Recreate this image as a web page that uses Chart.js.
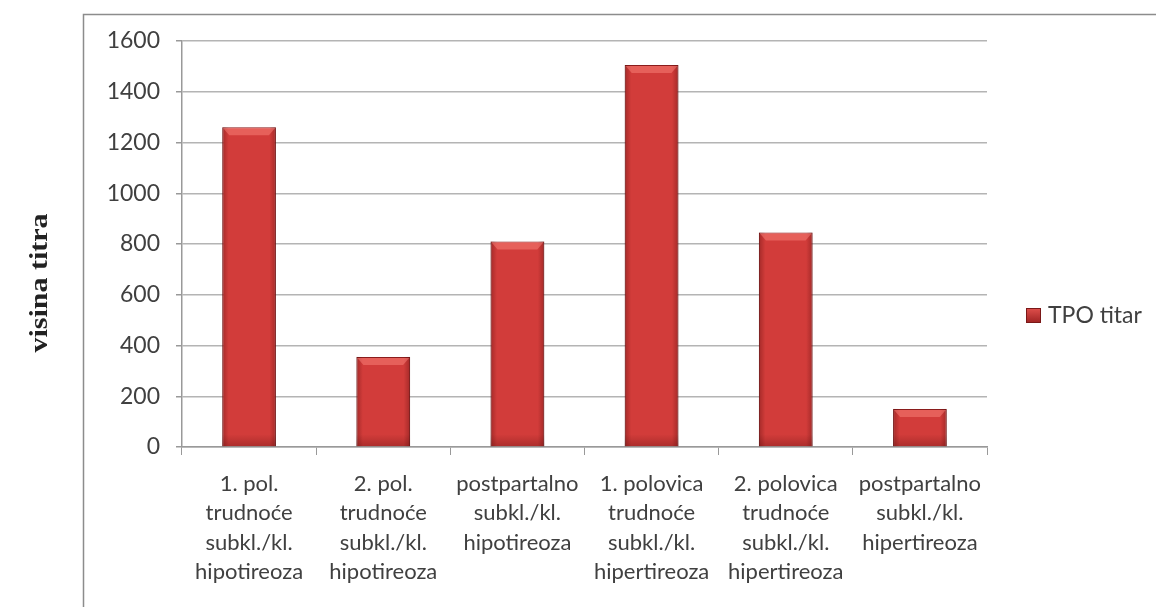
<!DOCTYPE html>
<html>
<head>
<meta charset="utf-8">
<script src="https://cdn.jsdelivr.net/npm/chart.js@4"></script>
<style>
  html, body { margin: 0; padding: 0; background: #fff; }
  #wrap { width: 1156px; height: 607px; position: relative; }
</style>
</head>
<body>
<div id="wrap"><canvas id="chart" width="1156" height="607"></canvas></div>
<script>
// Chart data
const categories = [
    ["1. pol.", "trudnoće", "subkl./kl.", "hipotireoza"],
    ["2. pol.", "trudnoće", "subkl./kl.", "hipotireoza"],
    ["postpartalno", "subkl./kl.", "hipotireoza"],
    ["1. polovica", "trudnoće", "subkl./kl.", "hipertireoza"],
    ["2. polovica", "trudnoće", "subkl./kl.", "hipertireoza"],
    ["postpartalno", "subkl./kl.", "hipertireoza"]
];
const tpoValues = [1260, 355, 810, 1505, 845, 150];
const seriesName = "TPO titar";
const yTitle = "visina titra";
const yMax = 1600;
const yStep = 200;

const textColor = '#404040';
const gridColor = '#b4b4b4';

// bevel look of the bars (drawn on top of the library's bar elements)
const bevelPlugin = {
    id: 'bevel',
    afterDatasetsDraw(chart) {
        const ctx = chart.ctx;
        chart.getDatasetMeta(0).data.forEach(bar => {
            const left = bar.x - bar.width / 2;
            const right = bar.x + bar.width / 2;
            const top = bar.y;
            const bottom = bar.base;
            ctx.save();
            const g = ctx.createLinearGradient(left, 0, right, 0);
            g.addColorStop(0, 'rgba(60,0,0,0.30)');
            g.addColorStop(0.12, 'rgba(60,0,0,0)');
            g.addColorStop(0.88, 'rgba(60,0,0,0)');
            g.addColorStop(1, 'rgba(60,0,0,0.30)');
            ctx.fillStyle = g;
            ctx.fillRect(left, top, right - left, bottom - top);
            // top bevel
            ctx.beginPath();
            ctx.moveTo(left + 1, top + 1);
            ctx.lineTo(right - 1, top + 1);
            ctx.lineTo(right - 7, top + 8);
            ctx.lineTo(left + 7, top + 8);
            ctx.closePath();
            ctx.fillStyle = 'rgba(255,140,130,0.45)';
            ctx.fill();
            // bottom shade
            const gb = ctx.createLinearGradient(0, bottom - 12, 0, bottom);
            gb.addColorStop(0, 'rgba(60,0,0,0)');
            gb.addColorStop(1, 'rgba(60,0,0,0.25)');
            ctx.fillStyle = gb;
            ctx.fillRect(left, bottom - 12, right - left, 12);
            ctx.restore();
        });
    }
};

// frame, rotated axis title and legend
const decorPlugin = {
    id: 'decor',
    afterDraw(chart) {
        const ctx = chart.ctx;
        const area = chart.chartArea;
        ctx.save();
        // outer frame
        ctx.strokeStyle = '#8c8c8c';
        ctx.lineWidth = 1.5;
        ctx.beginPath();
        ctx.moveTo(83.5, 607);
        ctx.lineTo(83.5, 14.5);
        ctx.lineTo(1156, 14.5);
        ctx.stroke();

        // y axis title
        ctx.translate(41, 283);
        ctx.rotate(-Math.PI / 2);
        ctx.scale(1.2, 1);
        ctx.font = 'bold 25px "Liberation Serif"';
        ctx.fillStyle = '#222';
        ctx.textAlign = 'center';
        ctx.textBaseline = 'middle';
        ctx.fillText(yTitle, 0, 0);
        ctx.restore();

        // legend
        ctx.save();
        const bx = area.right + 39, by = 308;
        const lg = ctx.createLinearGradient(bx, by, bx, by + 15);
        lg.addColorStop(0, '#e0504c');
        lg.addColorStop(1, '#9e2222');
        ctx.fillStyle = lg;
        ctx.fillRect(bx, by, 15, 15);
        ctx.strokeStyle = '#7a1818';
        ctx.lineWidth = 1;
        ctx.strokeRect(bx + 0.5, by + 0.5, 14, 14);
        ctx.font = '23px Lato';
        ctx.fillStyle = textColor;
        ctx.textBaseline = 'middle';
        ctx.fillText(seriesName, bx + 22, by + 8);
        ctx.restore();
    }
};

new Chart(document.getElementById('chart'), {
    type: 'bar',
    data: {
        labels: categories,
        datasets: [{
            label: seriesName,
            data: tpoValues,
            backgroundColor: '#d23c3a',
            borderColor: '#8a1c1c',
            borderWidth: 1,
            barPercentage: 0.8,
            categoryPercentage: 0.5
        }]
    },
    options: {
        responsive: false,
        animation: false,
        layout: { padding: { left: 0, right: 169, top: 41, bottom: 0 } },
        plugins: {
            legend: { display: false },
            tooltip: { enabled: false }
        },
        scales: {
            x: {
                afterFit(scale) { scale.height = 160; },
                grid: {
                    display: true,
                    drawOnChartArea: false,
                    offset: true,
                    tickLength: 8,
                    color: '#999'
                },
                border: { color: '#999', width: 1.5 },
                ticks: {
                    color: textColor,
                    font: { family: 'Lato', size: 22, lineHeight: 1.34 },
                    padding: 14,
                    maxRotation: 0,
                    autoSkip: false
                }
            },
            y: {
                min: 0,
                max: yMax,
                afterFit(scale) { scale.width = 182; },
                grid: {
                    color: gridColor,
                    lineWidth: 1.5,
                    tickLength: 6,
                    tickColor: '#999'
                },
                border: { color: '#999', width: 1.5 },
                ticks: {
                    stepSize: yStep,
                    color: textColor,
                    font: { family: 'Lato', size: 23 },
                    padding: 16,
                    callback: value => String(value)
                }
            }
        }
    },
    plugins: [bevelPlugin, decorPlugin]
});
</script>
</body>
</html>
